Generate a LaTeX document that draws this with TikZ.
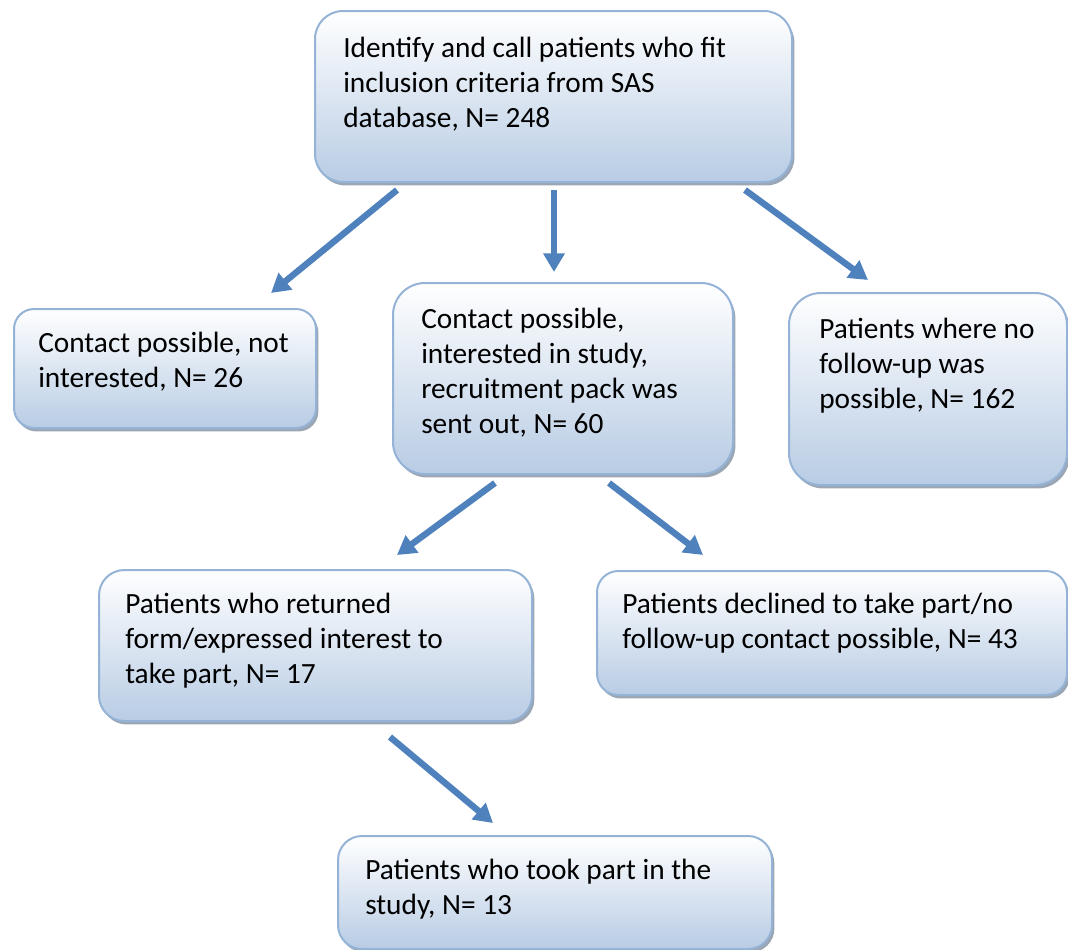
\documentclass[tikz,border=0pt]{standalone}
\usepackage{fontspec}
\setmainfont{Carlito}
\usetikzlibrary{arrows.meta,shadows}
\definecolor{boxborder}{HTML}{95B3D7}
\definecolor{boxbottom}{HTML}{B8CCE4}
\definecolor{arrowblue}{HTML}{4F81BD}
\definecolor{shadowgray}{HTML}{8A97A8}
\newcommand\boxlines[1]{\parbox[t]{12cm}{\raggedright #1}}
\tikzset{
  flowbox/.style={draw=boxborder, line width=1.5pt, top color=white, bottom color=boxbottom,
    anchor=north west, inner sep=0pt,
    drop shadow={shadow xshift=1.8pt, shadow yshift=-2.6pt, fill=shadowgray, opacity=0.85}},
  boxtext/.style={anchor=base west, inner sep=0pt, font=\fontsize{22}{26.4}\selectfont},
  flowarrow/.style={draw=arrowblue, line width=4.8pt, -{Triangle[length=14pt,width=15.5pt]}}
}
\begin{document}
\begin{tikzpicture}[x=0.75pt,y=-0.75pt]
\useasboundingbox (0,0) rectangle (1068,950);
% boxes
\node[flowbox, minimum width=357.75pt, minimum height=128.25pt, rounded corners=21pt] (A) at (314,10) {};
\node[flowbox, minimum width=226.5pt, minimum height=89.25pt, rounded corners=15pt] (B) at (13,308) {};
\node[flowbox, minimum width=255pt, minimum height=143.25pt, rounded corners=24pt] (C) at (392,282) {};
\node[flowbox, minimum width=208.5pt, minimum height=144pt, rounded corners=24pt] (D) at (788,292) {};
\node[flowbox, minimum width=324.75pt, minimum height=113.25pt, rounded corners=19pt] (E) at (98,569) {};
\node[flowbox, minimum width=352.5pt, minimum height=93pt, rounded corners=16pt] (F) at (596,570) {};
\node[flowbox, minimum width=325.5pt, minimum height=84.75pt, rounded corners=18pt] (G) at (337,835) {};
% texts
\node[boxtext] (At) at (343,57) {\boxlines{Identify and call patients who fit\\inclusion criteria from SAS\\database, N= 248}};
\node[boxtext] (Bt) at (38,352) {\boxlines{Contact possible, not\\interested, N= 26}};
\node[boxtext] (Ct) at (421,328) {\boxlines{Contact possible,\\interested in study,\\recruitment pack was\\sent out, N= 60}};
\node[boxtext] (Dt) at (819,338) {\boxlines{Patients where no\\follow-up was\\possible, N= 162}};
\node[boxtext] (Et) at (125,613) {\boxlines{Patients who returned\\form/expressed interest to\\take part, N= 17}};
\node[boxtext] (Ft) at (622,613) {\boxlines{Patients declined to take part/no\\follow-up contact possible, N= 43}};
\node[boxtext] (Gt) at (365,879) {\boxlines{Patients who took part in the\\study, N= 13}};
% arrow end points
\coordinate (ab1) at (397,190); \coordinate (ab2) at (271,293);
\coordinate (ac1) at (554,190); \coordinate (ac2) at (554,272);
\coordinate (ad1) at (745,190); \coordinate (ad2) at (868,280);
\coordinate (ce1) at (495,483); \coordinate (ce2) at (397,555);
\coordinate (cf1) at (609,483); \coordinate (cf2) at (703,555);
\coordinate (eg1) at (390,737); \coordinate (eg2) at (493,823);
\draw[flowarrow] (ab1) -- (ab2);
\draw[flowarrow] (ac1) -- (ac2);
\draw[flowarrow] (ad1) -- (ad2);
\draw[flowarrow] (ce1) -- (ce2);
\draw[flowarrow] (cf1) -- (cf2);
\draw[flowarrow] (eg1) -- (eg2);
\end{tikzpicture}
\end{document}
